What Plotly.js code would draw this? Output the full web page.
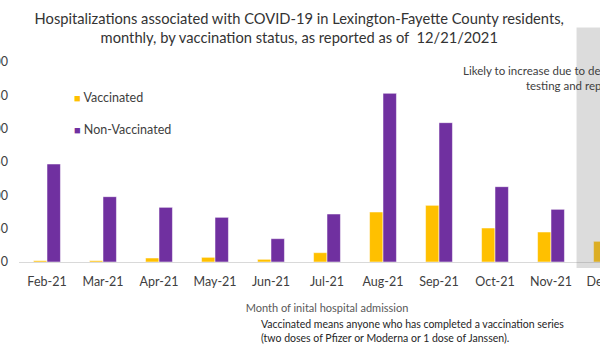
<!DOCTYPE html>
<html>
<head>
<meta charset="utf-8">
<script src="https://cdn.plot.ly/plotly-3.0.1.min.js"></script>
<style>
  html, body { margin: 0; padding: 0; width: 600px; height: 350px; overflow: hidden; background: #fff; }
  #chart { position: absolute; left: -60px; top: 0; width: 720px; height: 350px; }
</style>
</head>
<body>
<div id="chart"></div>
<script>
// Data
const months = ['Feb-21', 'Mar-21', 'Apr-21', 'May-21', 'Jun-21', 'Jul-21', 'Aug-21', 'Sep-21', 'Oct-21', 'Nov-21', 'Dec-21'];
const vaccinated = [2, 2, 6, 7, 4, 14, 75, 85, 51, 45, 31];
const nonVaccinated = [147, 98, 82, 67, 35, 72, 253, 209, 113, 79, null];
const yTicks = [0, 50, 100, 150, 200, 250, 300];

const FONT = 'Lato, "Open Sans", sans-serif';
const W = 720, H = 350;
const ML = 78.5, MR = 25, MT = 62, MB = 88;
const PW = W - ML - MR, PH = H - MT - MB;
// helpers converting figure pixel positions to paper coordinates
const px = x => (x - ML) / PW;
const py = y => (H - MB - y) / PH;
const OFF = 60; // div shifted left by this many px

const traces = [
  {
    type: 'bar', name: 'Vaccinated', x: months, y: vaccinated,
    marker: { color: '#FFC000', line: { color: 'rgba(255,255,255,0.5)', width: 1 } },
    showlegend: false, hoverinfo: 'skip'
  },
  {
    type: 'bar', name: 'Non-Vaccinated', x: months, y: nonVaccinated,
    marker: { color: '#7030A0', line: { color: 'rgba(255,255,255,0.5)', width: 1 } },
    showlegend: false, hoverinfo: 'skip'
  }
];

const layout = {
  width: W, height: H,
  margin: { l: ML, r: MR, t: MT, b: MB },
  paper_bgcolor: '#ffffff', plot_bgcolor: '#ffffff',
  font: { family: FONT, color: '#404040' },
  title: {
    text: 'Hospitalizations associated with COVID-19 in Lexington-Fayette County residents,<br>monthly, by vaccination status, as reported as of  12/21/2021',
    font: { family: FONT, size: 14.7, color: '#333333' },
    x: px(299 + OFF), xref: 'paper', xanchor: 'center',
    y: 1 - 23.5 / H, yref: 'container', yanchor: 'top'
  },
  barmode: 'group', bargap: 0.52, bargroupgap: 0,
  xaxis: {
    type: 'category', range: [-0.5, 10.5], fixedrange: true,
    showline: true, linecolor: '#d9d9d9', linewidth: 1,
    showgrid: false, zeroline: false, ticks: '',
    tickfont: { family: FONT, size: 12.5, color: '#404040' },
    ticklabelstandoff: 8,
    title: { text: 'Month of inital hospital admission', font: { family: FONT, size: 11, color: '#595959' }, standoff: 16 }
  },
  yaxis: {
    range: [0, 300], tickvals: yTicks, fixedrange: true,
    showgrid: false, zeroline: false, showline: false, ticks: '',
    tickfont: { family: FONT, size: 12.5, color: '#404040' },
    ticklabelstandoff: 10
  },
  shapes: [
    {
      type: 'rect', xref: 'paper', yref: 'paper', layer: 'above',
      x0: px(576.5 + OFF), x1: px(720), y0: py(268), y1: py(27.5),
      fillcolor: 'rgba(128,128,128,0.28)', line: { width: 0 }
    }
  ],
  annotations: [
    {
      xref: 'paper', yref: 'paper', x: px(72 + OFF), y: py(97.5), xanchor: 'left', yanchor: 'middle',
      text: '<span style="color:#FFC000;font-size:11px">■</span> Vaccinated', showarrow: false,
      font: { family: FONT, size: 12.5, color: '#404040' }
    },
    {
      xref: 'paper', yref: 'paper', x: px(72 + OFF), y: py(129.5), xanchor: 'left', yanchor: 'middle',
      text: '<span style="color:#7030A0;font-size:11px">■</span> Non-Vaccinated', showarrow: false,
      font: { family: FONT, size: 12.5, color: '#404040' }
    },
    {
      xref: 'paper', yref: 'paper', x: px(634 + OFF), y: py(77.5), xanchor: 'right', yanchor: 'middle', align: 'right',
      text: 'Likely to increase due to delays in<br>testing and reporting', showarrow: false,
      font: { family: FONT, size: 11.5, color: '#404040' }
    },
    {
      xref: 'paper', yref: 'paper', x: px(259 + OFF), y: py(330.5), xanchor: 'left', yanchor: 'middle', align: 'left',
      text: 'Vaccinated means anyone who has completed a vaccination series<br>(two doses of Pfizer or Moderna or 1 dose of Janssen).', showarrow: false,
      font: { family: FONT, size: 10.5, color: '#262626' }
    }
  ]
};

Plotly.newPlot('chart', traces, layout, { displayModeBar: false, staticPlot: true });
</script>
</body>
</html>
